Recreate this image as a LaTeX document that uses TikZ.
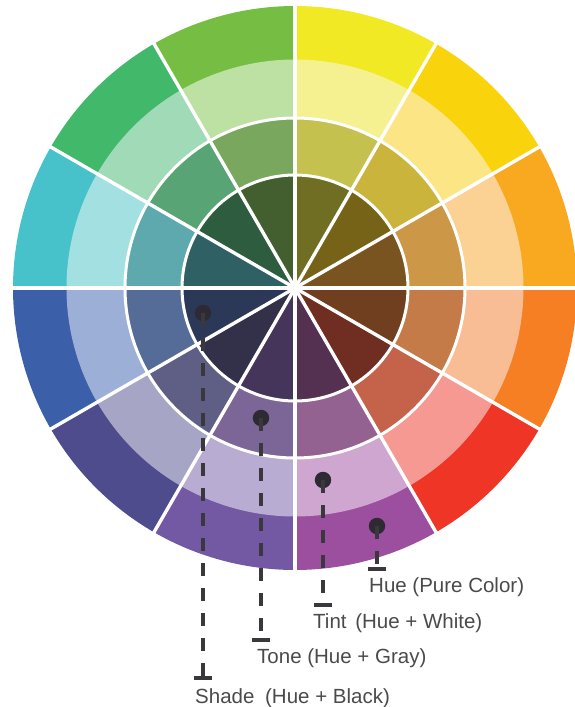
\documentclass[tikz,border=0pt]{standalone}
\usepackage{fontspec}
\setmainfont{Liberation Sans}
\definecolor{txtcol}{HTML}{4A4A4A}
\definecolor{pincol}{HTML}{2E2A33}
\definecolor{linecol}{HTML}{3A383C}
\tikzset{
  pindot/.style={circle, fill=pincol, minimum size=16.5pt, inner sep=0pt},
  barmark/.style={rectangle, fill=linecol, minimum width=18pt, minimum height=3.2pt, inner sep=0pt},
  dashline/.style={draw=linecol, line width=3.1pt, dash pattern=on 13pt off 12pt},
  lab/.style={anchor=base west, text=txtcol, inner sep=0pt, font=\fontsize{20.5}{24}\selectfont},
  sep/.style={white, line width=3.4pt},
  ringsep/.style={white, line width=3pt}
}
\begin{document}
\begin{tikzpicture}[x=1pt,y=1pt]
\useasboundingbox (-295,-419) rectangle (279,288);
\foreach \a/\h/\t/\o/\s in {
  0/F9A920/FBD294/CC9847/7A5420,
  30/F9D30B/FBE584/CBB43C/776318,
  60/F0E923/F6F190/C5C14E/706E22,
  90/75BE43/BDE0A3/78A75D/435E2F,
  120/41B86A/A1DAB6/59A475/2E5C3F,
  150/48C2CA/A3E0E2/5EA9AD/2F6064,
  180/3C5FAA/9CAFD7/566C98/2C3857,
  210/4E4C8C/A7A5C5/5F5E85/33314A,
  240/7358A4/B8ACD3/7B6697/45355A,
  270/9C4F9E/CEA6CF/946290/543151,
  300/EE3526/F59992/C5624A/702D21,
  330/F57F22/F8BD94/C47B48/703F1F}{
  \definecolor{chue}{HTML}{\h}
  \definecolor{ctint}{HTML}{\t}
  \definecolor{ctone}{HTML}{\o}
  \definecolor{cshade}{HTML}{\s}
  \fill[chue] (\a:282) arc[start angle=\a, end angle=\a+30, radius=282]
    -- ({\a+30}:228) arc[start angle=\a+30, end angle=\a, radius=228] -- cycle;
  \fill[ctint] (\a:228.5) arc[start angle=\a, end angle=\a+30, radius=228.5]
    -- ({\a+30}:170) arc[start angle=\a+30, end angle=\a, radius=170] -- cycle;
  \fill[ctone] (\a:170) arc[start angle=\a, end angle=\a+30, radius=170]
    -- ({\a+30}:113) arc[start angle=\a+30, end angle=\a, radius=113] -- cycle;
  \fill[cshade] (0,0) -- (\a:113) arc[start angle=\a, end angle=\a+30, radius=113] -- cycle;
}
\draw[ringsep] (0,0) circle[radius=170];
\draw[ringsep] (0,0) circle[radius=113];
\foreach \a in {0,30,...,330} \draw[sep] (0,0) -- (\a:282.5);

% pins
\node[pindot] (pshade) at (-92,-25) {};
\node[pindot] (ptone) at (-34,-130) {};
\node[pindot] (ptint) at (28,-192) {};
\node[pindot] (phue) at (82,-238) {};

\node[barmark] (bshade) at (-92,-390) {};
\node[barmark] (btone) at (-34,-352) {};
\node[barmark] (btint) at (28,-317) {};
\node[barmark] (bhue) at (82,-281) {};

\draw[dashline] (pshade.center) -- (bshade.center);
\draw[dashline] (ptone.center) -- (btone.center);
\draw[dashline] (ptint.center) -- (btint.center);
\draw[dashline] (phue.center) -- (bhue.center);

\node[lab] (lhue) at (74,-304) {Hue (Pure Color)};
\node[lab] (ltint) at (18,-340) {Tint\hspace{3pt} (Hue + White)};
\node[lab] (ltone) at (-38,-375) {Tone (Hue + Gray)};
\node[lab] (lshade) at (-100,-415) {Shade\hspace{5pt} (Hue + Black)};
\end{tikzpicture}
\end{document}
